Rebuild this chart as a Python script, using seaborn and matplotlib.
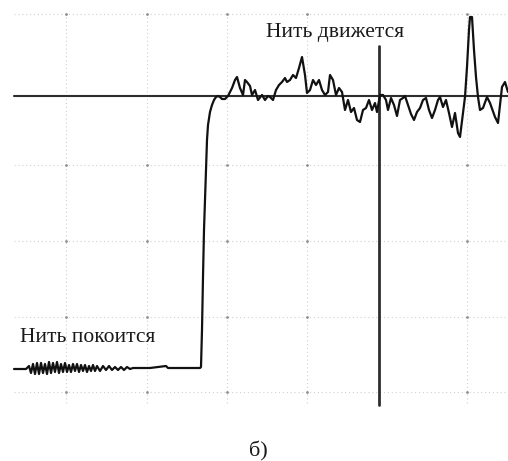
import matplotlib
matplotlib.use("Agg")
import matplotlib.pyplot as plt
import seaborn as sns
import pandas as pd
import numpy as np

# time in ms, force in ADC counts
time_ms = [0, 6, 12, 15, 17, 19, 21, 23, 25, 27, 29, 31, 33, 35, 37, 39, 41, 43, 45, 47,
           49, 51, 53, 55, 57, 59, 61, 63, 65, 67, 69, 71, 73, 75, 77, 79, 81, 83, 86, 89,
           92, 95, 98, 101, 104, 107, 110, 113, 116, 119, 123, 136, 152, 154, 186,
           187, 188, 189, 190, 192, 193, 194, 196, 198, 200, 202, 204, 206, 208, 211, 214,
           218, 221, 223, 226, 229, 231, 233, 236, 238, 241, 244, 248, 251, 254, 256, 259,
           262, 265, 268, 271, 273, 276, 279, 282, 285, 288, 291, 293, 296, 299, 302, 305,
           308, 311, 314, 316, 319, 322, 325, 328, 331, 334, 337, 340, 343, 346, 349, 352,
           355, 358, 361, 363, 366, 369, 372, 374, 377, 380, 383, 386, 389, 391, 394, 397,
           400, 403, 406, 409, 412, 415, 418, 421, 424, 426, 429, 432, 435, 438, 441, 444,
           446, 449, 451, 453, 455, 456, 458, 460, 462, 464, 466, 469, 473, 476, 481, 484,
           488, 491, 494]
force = [23, 23, 23, 26, 19, 28, 18, 29, 18, 29, 19, 28, 18, 30, 19, 29, 20, 30, 19, 28,
         20, 29, 20, 27, 20, 28, 21, 28, 20, 27, 21, 27, 20, 26, 21, 27, 21, 26, 21, 26,
         22, 26, 22, 25, 22, 25, 22, 25, 23, 24, 24, 24, 26, 24, 24,
         25, 62, 115, 162, 222, 252, 267, 280, 287, 292, 295, 296, 295, 293, 293, 296,
         304, 312, 315, 304, 297, 312, 310, 306, 297, 302, 292, 297, 292, 296, 295, 292,
         302, 307, 310, 314, 310, 312, 317, 314, 324, 335, 317, 299, 302, 312, 307, 312,
         302, 297, 300, 317, 312, 297, 304, 300, 282, 292, 280, 284, 272, 270, 282, 284,
         292, 282, 289, 280, 297, 297, 292, 282, 294, 287, 276, 292, 294, 296, 287, 278,
         272, 280, 284, 292, 294, 282, 274, 282, 292, 295, 285, 292, 279, 265, 279, 259,
         255, 279, 295, 325, 362, 375, 375, 342, 315, 295, 282, 284, 295, 289, 275, 269,
         305, 310, 300]

reference_level = 296      # horizontal reference line
marker_time = 365          # vertical marker line
grid_time = [52, 133, 213, 293, 453]
grid_force = [0, 75, 151, 227, 378]

label_rest = "Нить покоится"
label_move = "Нить движется"
caption = "б)"

df = pd.DataFrame({"t": time_ms, "F": force})

sns.set_theme(style="white")
plt.rcParams["font.family"] = ["Liberation Serif", "DejaVu Serif"]

fig = plt.figure(figsize=(5.08, 4.61), dpi=100)
ax = fig.add_axes([0, 0, 1, 1])
ax.set_xlim(-14, 494)
ax.set_ylim(-69, 392)
ax.axis("off")

# grid
for gt in grid_time:
    ax.plot([gt, gt], [-11, 378], color="#d0d0d0", lw=0.8, ls=(0, (1, 2.5)), zorder=1)
for gf in grid_force:
    ax.plot([0, 494], [gf, gf], color="#d0d0d0", lw=0.8, ls=(0, (1, 2.5)), zorder=1)
gx, gy = np.meshgrid(grid_time, grid_force)
ax.scatter(gx.ravel(), gy.ravel(), s=4, color="#909090", lw=0, zorder=2)

# reference lines
ax.plot([0, 494], [reference_level, reference_level], color="#2e2e2e", lw=1.5, zorder=3)
ax.plot([marker_time, marker_time], [-13, 346], color="#2e2e2e", lw=2.0, zorder=3)

sns.lineplot(data=df, x="t", y="F", sort=False, estimator=None, color="#111111",
             lw=1.6, ax=ax, zorder=4)
ax.axis("off")

ax.text(252, 359, label_move, fontsize=15.5, ha="left", va="center", color="#1a1a1a")
ax.text(6, 54, label_rest, fontsize=15.5, ha="left", va="center", color="#1a1a1a")
fig.text(258 / 508, 1 - 451 / 461, caption, fontsize=16, ha="center", va="center",
         color="#1a1a1a")

fig.savefig("out.png", dpi=100)
